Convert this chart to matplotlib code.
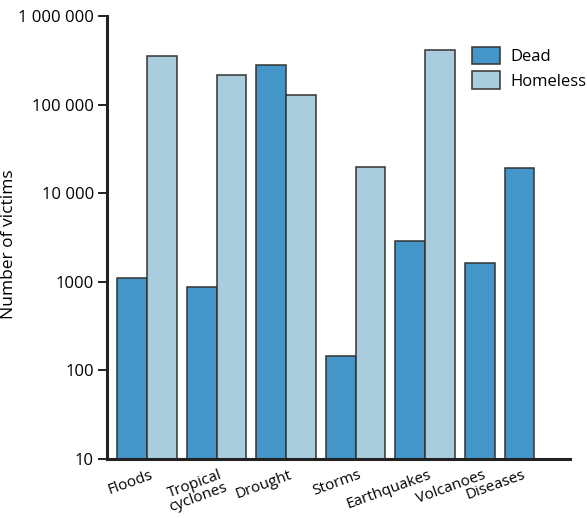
import matplotlib
matplotlib.use("Agg")
import matplotlib.pyplot as plt
import numpy as np

categories = ["Floods", "Tropical\ncyclones", "Drought", "Storms", "Earthquakes", "Volcanoes", "Diseases"]
dead = [1115, 867, 277000, 147, 2860, 1630, 19100]
homeless = [353000, 216000, 127000, 19900, 412000, None, None]
yticks = [10, 100, 1000, 10000, 100000, 1000000]
yticklabels = ["10", "100", "1000", "10 000", "100 000", "1 000 000"]

DEAD_C = "#4596c8"
HOME_C = "#a9cddd"
EDGE_C = "#333333"

plt.rcParams['font.family'] = ['Open Sans', 'DejaVu Sans']

fig = plt.figure(figsize=(5.87, 5.18), dpi=100)
ax = fig.add_axes([107/587, 1-459/518, (570-107)/587, (459-16)/518])

gap = 0.34
cursor = 0.0
label_pos = []
dead_x, home_x, home_v = [], [], []
for d, h in zip(dead, homeless):
    dead_x.append(cursor)
    n = 1
    if h is not None:
        home_x.append(cursor + 1)
        home_v.append(h)
        n = 2
    label_pos.append(cursor + (1.1 if n == 2 else 0.6))
    cursor += n + gap

ax.bar(dead_x, [d - 10 for d in dead], bottom=10, width=1, align='edge',
       color=DEAD_C, edgecolor=EDGE_C, linewidth=1.1, label="Dead")
ax.bar(home_x, [h - 10 for h in home_v], bottom=10, width=1, align='edge',
       color=HOME_C, edgecolor=EDGE_C, linewidth=1.1, label="Homeless")

ax.set_yscale('log')
ax.set_ylim(10, 1000000)
ax.set_xlim(-0.347, 15.24)
ax.set_yticks(yticks)
ax.set_yticklabels(yticklabels)
ax.yaxis.set_minor_locator(matplotlib.ticker.NullLocator())
ax.tick_params(axis='y', direction='out', length=6.5, width=1.4, labelsize=12, pad=3, color='#222222')
ax.set_xticks(label_pos)
ax.set_xticklabels(categories, rotation=20, ha='right', va='top', rotation_mode='anchor', fontsize=11)
ax.tick_params(axis='x', length=0, pad=6)
for lbl in ax.get_xticklabels():
    lbl.set_linespacing(0.9)

for s in ['top', 'right']:
    ax.spines[s].set_visible(False)
for s in ['left', 'bottom']:
    ax.spines[s].set_linewidth(2.2)
    ax.spines[s].set_color('#222222')

ax.set_ylabel("Number of victims", fontsize=12.5)
ax.yaxis.set_label_coords((17-107)/463, 0.485)

leg = ax.legend(loc='upper left', bbox_to_anchor=((465-107)/463, 1-(40-16)/443), frameon=False,
                fontsize=12, handlelength=1.7, handleheight=1.2, handletextpad=0.6,
                labelspacing=0.4, borderaxespad=0)

fig.savefig("out.png", dpi=100)
